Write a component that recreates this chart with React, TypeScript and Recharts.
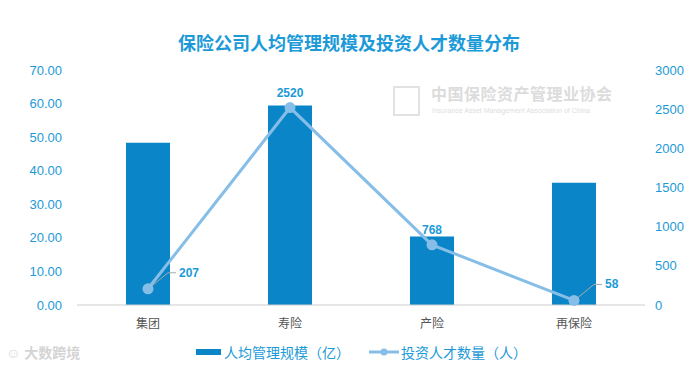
import {
  ComposedChart,
  Bar,
  Line,
  XAxis,
  YAxis,
  LabelList,
} from "recharts";

const categories = ["集团", "寿险", "产险", "再保险"];
const scale = [48.3, 59.4, 20.4, 36.4];
const talent = [207, 2520, 768, 58];
const leftTicks = [0, 10, 20, 30, 40, 50, 60, 70];
const rightTicks = [0, 500, 1000, 1500, 2000, 2500, 3000];

const data = categories.map((name, i) => ({
  name,
  scale: scale[i],
  talent: talent[i],
}));

const BAR = "#0a86c8";
const LINE = "#86bee8";
const BLUE = "#1c9ad8";
const FONT = '"Liberation Sans", "Noto Sans CJK SC", sans-serif';

const TalentLabel = (props: any) => {
  const { x, y, value, index } = props;
  if (index === 0 || index === 3) {
    return (
      <g>
        <polyline
          points={`${x + 4},${y - 3} ${x + 20},${y - 16} ${x + 28},${y - 16}`}
          fill="none"
          stroke="#a8a8a8"
          strokeWidth={1}
        />
        <text x={x + 31} y={y - 12} fill={BLUE} fontSize={12} fontWeight="bold" fontFamily={FONT}>
          {value}
        </text>
      </g>
    );
  }
  return (
    <text x={x} y={y - 11} textAnchor="middle" fill={BLUE} fontSize={12} fontWeight="bold" fontFamily={FONT}>
      {value}
    </text>
  );
};

// legend drawn by hand so the plot keeps its bottom edge
const LegendBox = () => (
  <div
    style={{
      position: "absolute",
      left: 0,
      top: 342,
      width: 698,
      display: "flex",
      justifyContent: "center",
      alignItems: "center",
      gap: 19,
      fontFamily: FONT,
      fontSize: 14,
      color: BLUE,
      paddingLeft: 25,
      boxSizing: "border-box",
    }}
  >
    <span style={{ display: "flex", alignItems: "center" }}>
      <span style={{ display: "inline-block", width: 25, height: 6, background: BAR, marginRight: 3 }} />
      人均管理规模（亿）
    </span>
    <span style={{ display: "flex", alignItems: "center" }}>
      <svg width={30} height={10} style={{ marginRight: 2 }}>
        <line x1={0} y1={5} x2={30} y2={5} stroke={LINE} strokeWidth={3} />
        <circle cx={15} cy={5} r={3.5} fill={LINE} />
      </svg>
      投资人才数量（人）
    </span>
  </div>
);

export default function App() {
  return (
    <div style={{ position: "absolute", left: 0, top: 0, width: 698, height: 371, background: "#fff" }}>
      <div
        style={{
          position: "absolute",
          top: 29,
          left: 0,
          width: 698,
          textAlign: "center",
          fontFamily: FONT,
          fontSize: 18,
          fontWeight: "bold",
          color: BLUE,
        }}
      >
        保险公司人均管理规模及投资人才数量分布
      </div>
      <div style={{ position: "absolute", left: 431, top: 85, fontFamily: FONT, color: "#dcdcdc", fontSize: 16, fontWeight: "bold", letterSpacing: 0.5, lineHeight: "20px" }}>
        中国保险资产管理业协会
      </div>
      <div style={{ position: "absolute", left: 432, top: 107, fontFamily: FONT, color: "#dedede", fontSize: 7, lineHeight: "8px" }}>
        Insurance Asset Management Association of China
      </div>
      <div style={{ position: "absolute", left: 393, top: 86, width: 27, height: 30, border: "2px solid #e2e2e2", boxSizing: "border-box" }} />
      <div style={{ position: "absolute", left: 6, top: 342, fontFamily: FONT, color: "#d4d4d4", fontSize: 14, fontWeight: "bold" }}>
        ☺ 大数跨境
      </div>
      <ComposedChart
        width={698}
        height={371}
        data={data}
        margin={{ top: 70, right: 0, left: 0, bottom: 36 }}
        style={{ position: "absolute", left: 0, top: 0 }}
      >
        <XAxis
          dataKey="name"
          height={30}
          axisLine={{ stroke: "#cccccc" }}
          tickLine={false}
          tickSize={0}
          tickMargin={14}
          tick={{ fill: "#555555", fontSize: 12, fontFamily: FONT }}
        />
        <YAxis
          yAxisId="left"
          width={77}
          domain={[0, 70]}
          ticks={leftTicks}
          tickFormatter={(v: number) => v.toFixed(2)}
          axisLine={false}
          tickLine={false}
          tickSize={0}
          tickMargin={15}
          tick={{ fill: BLUE, fontSize: 13, fontFamily: FONT }}
        />
        <YAxis
          yAxisId="right"
          orientation="right"
          width={53}
          domain={[0, 3000]}
          ticks={rightTicks}
          axisLine={false}
          tickLine={false}
          tickSize={0}
          tickMargin={10}
          tick={{ fill: BLUE, fontSize: 13, fontFamily: FONT, textAnchor: "start" }}
        />
        <Bar yAxisId="left" dataKey="scale" name="人均管理规模（亿）" fill={BAR} barSize={44} isAnimationActive={false} />
        <Line
          yAxisId="right"
          dataKey="talent"
          name="投资人才数量（人）"
          stroke={LINE}
          strokeWidth={3}
          dot={{ r: 4, fill: LINE, stroke: LINE }}
          isAnimationActive={false}
        >
          <LabelList dataKey="talent" content={TalentLabel} />
        </Line>
      </ComposedChart>
      <LegendBox />
    </div>
  );
}
